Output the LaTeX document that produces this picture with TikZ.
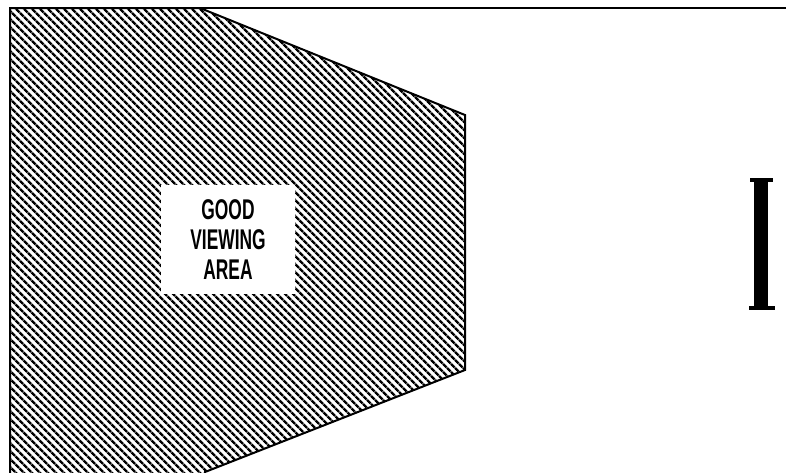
\documentclass[tikz,border=0pt]{standalone}
\usepackage{fontspec}
\setmainfont{Liberation Sans}[FakeStretch=0.61]
\usetikzlibrary{patterns.meta}
\begin{document}
\begin{tikzpicture}[x=1pt,y=-1pt]
        \tikzstyle{hatchzone}=[draw=black,line width=2pt,line join=miter,pattern={Lines[angle=-45,distance=5.4pt,line width=2.6pt]}]
        \tikzstyle{labelbox}=[fill=white,minimum width=134pt,minimum height=109pt,align=center,inner sep=0pt,font=\fontsize{28.5}{30}\selectfont\bfseries]
        \useasboundingbox (0,0) rectangle (786,472);
        \draw[line width=2pt] (10,8) -- (786,8);
        \path[hatchzone] (10,480) -- (10,8) -- (200,8) -- (465,115) -- (465,370) -- (205,472) -- (203,480) -- cycle;
        \node[labelbox] (viewing) at (228,239.5) {GOOD\\VIEWING\\AREA};
        % screen seen edge-on
        \fill (750,178) rectangle (773,182);
        \fill (754,180) rectangle (768,308);
        \fill (749,306) rectangle (775,310);
      \end{tikzpicture}
\end{document}
